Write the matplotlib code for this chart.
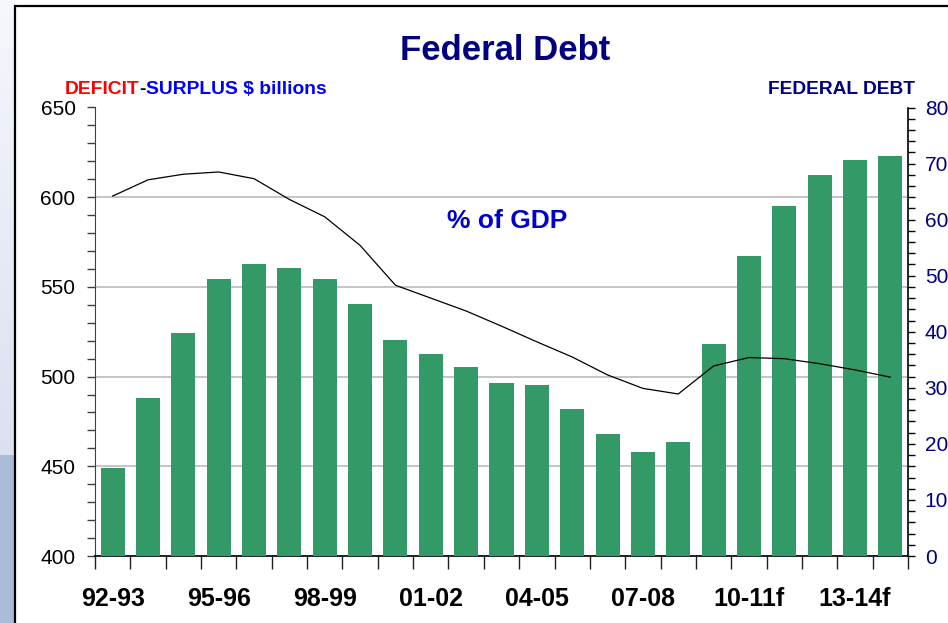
import matplotlib
matplotlib.use("Agg")
import matplotlib.pyplot as plt
import numpy as np
from matplotlib.patches import Rectangle
from matplotlib.ticker import MultipleLocator, FixedLocator

years = ["92-93", "93-94", "94-95", "95-96", "96-97", "97-98", "98-99", "99-00",
         "00-01", "01-02", "02-03", "03-04", "04-05", "05-06", "06-07", "07-08",
         "08-09", "09-10", "10-11f", "11-12f", "12-13f", "13-14f", "14-15f"]
debt_billions = [449, 488, 524.5, 554.5, 563, 560.5, 554.5, 540.5, 520.5, 512.5,
                 505.5, 496.5, 495.5, 482, 468, 458, 463.5, 518, 567, 595,
                 612.5, 620.5, 623]
debt_pct_gdp = [64.2, 67.1, 68.1, 68.5, 67.3, 63.6, 60.5, 55.4, 48.3, 46.0,
                43.7, 41.0, 38.2, 35.5, 32.3, 29.9, 28.9, 33.9, 35.4, 35.2,
                34.3, 33.2, 31.9]
label_years = ["92-93", "95-96", "98-99", "01-02", "04-05", "07-08", "10-11f", "13-14f"]

W, H = 948, 623
fig = plt.figure(figsize=(W / 100, H / 100), dpi=100)
fig.patch.set_facecolor("white")

# left background strip (slide background)
bg = fig.add_axes([0, 0, 15 / W, 1])
grad = np.zeros((200, 2, 3))
for i in range(200):
    t = i / 199.0  # 0 top -> 1 bottom
    if t < 0.73:
        c = np.array([0.96, 0.97, 0.99]) * (1 - t / 0.73) + np.array([0.86, 0.88, 0.94]) * (t / 0.73)
    else:
        c = np.array([0.66, 0.74, 0.85])
    grad[i, :, :] = c
bg.imshow(grad, aspect="auto", extent=[0, 1, 0, 1])
bg.set_axis_off()

# panel border
fig.patches.append(Rectangle((15 / W, -0.02), 1.0, 1 - 6 / H + 0.02, transform=fig.transFigure,
                             fill=False, edgecolor="black", linewidth=1.6, zorder=0))

font_sans = ["Liberation Sans", "DejaVu Sans"]

ax = fig.add_axes([95 / W, (H - 556) / H, (908 - 95) / W, (556 - 107.5) / H])
x = np.arange(len(years))
ax.bar(x, debt_billions, width=0.68, color="#339966", zorder=3)
ax.set_xlim(-0.5, len(years) - 0.5)
ax.set_ylim(400, 650)
ax.set_facecolor("none")

ax.yaxis.set_major_locator(MultipleLocator(50))
ax.yaxis.set_minor_locator(MultipleLocator(10))
ax.grid(axis="y", which="major", color="#c0c0c0", linewidth=1.3, zorder=0)
ax.tick_params(axis="y", which="both", direction="out", length=6, width=1.0, color="#404040",
               labelsize=15, pad=8, labelcolor="black")
for lab in ax.get_yticklabels():
    lab.set_fontfamily(font_sans)

ax.xaxis.set_major_locator(FixedLocator(np.arange(-0.5, len(years), 1.0)))
ax.xaxis.set_major_formatter(plt.NullFormatter())
label_pos = [years.index(y) for y in label_years]
ax.xaxis.set_minor_locator(FixedLocator(label_pos))
ax.set_xticklabels(label_years, minor=True)
ax.tick_params(axis="x", which="major", direction="out", length=9, width=1.0, color="#202020")
ax.tick_params(axis="x", which="minor", length=0, pad=22, labelsize=18)
for lab in ax.get_xticklabels(minor=True):
    lab.set_fontfamily(font_sans)
    lab.set_fontweight("bold")

ax.spines["top"].set_visible(False)
ax.spines["right"].set_visible(False)
ax.spines["left"].set_color("#404040")
ax.spines["bottom"].set_color("black")
ax.spines["bottom"].set_linewidth(1.2)

ax2 = ax.twinx()
ax2.plot(x, debt_pct_gdp, color="black", linewidth=0.9, zorder=4)
ax2.set_ylim(0, 80)
ax2.yaxis.set_major_locator(MultipleLocator(10))
ax2.yaxis.set_minor_locator(MultipleLocator(2))
ax2.tick_params(axis="y", which="both", direction="out", length=5, width=1.0, color="black",
                labelsize=15, pad=7, labelcolor="#000080")
for lab in ax2.get_yticklabels():
    lab.set_fontfamily(font_sans)
for s in ["top", "left", "bottom"]:
    ax2.spines[s].set_visible(False)
ax2.spines["right"].set_color("black")
ax2.spines["right"].set_linewidth(1.2)

# Title and labels
fig.text(505 / W, 1 - 50 / H, "Federal Debt", ha="center", va="center", fontsize=25,
         fontweight="bold", color="#000080", family=font_sans)

fig.text(915 / W, 1 - 94 / H, "FEDERAL DEBT", ha="right", va="baseline", fontsize=13.8,
         fontweight="bold", color="#000080", family=font_sans)

fig.text(507 / W, 1 - 221 / H, "% of GDP", ha="center", va="center", fontsize=19,
         fontweight="bold", color="#0000cc", family=font_sans)

# multi-coloured axis title
fig.canvas.draw()
renderer = fig.canvas.get_renderer()
xpos = 65
parts = [("DEFICIT", "#ff0000"), ("-", "black"), ("SURPLUS $ billions", "#0000ff")]
for txt, col in parts:
    t = fig.text(xpos / W, 1 - 94 / H, txt, ha="left", va="baseline", fontsize=13.9,
                 fontweight="bold", color=col, family=font_sans)
    bb = t.get_window_extent(renderer=renderer)
    xpos = bb.x1

fig.savefig("out.png", dpi=100, facecolor=fig.get_facecolor())
